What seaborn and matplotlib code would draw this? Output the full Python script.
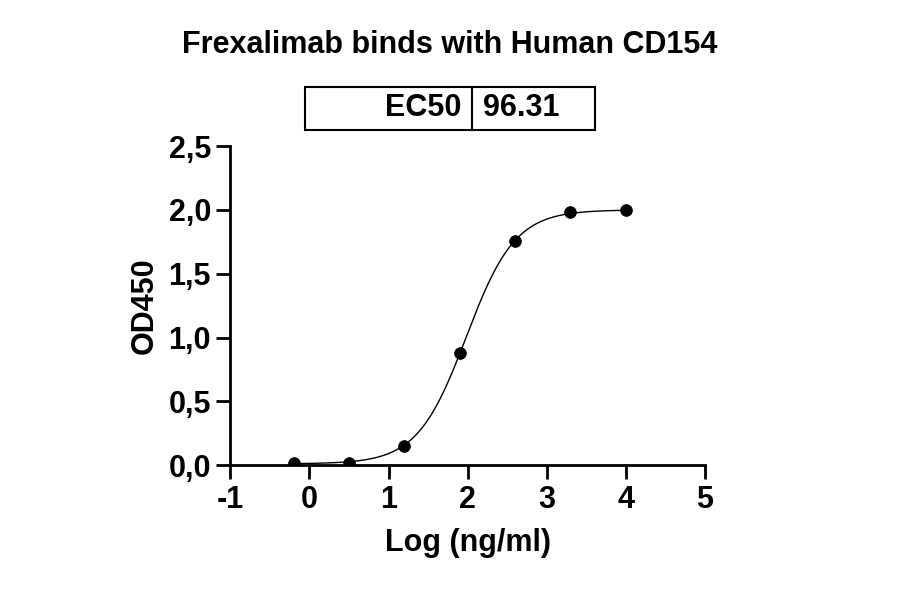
import numpy as np
import matplotlib
matplotlib.use("Agg")
import matplotlib.pyplot as plt
import seaborn as sns

# measured points (log ng/ml, OD450)
log_conc = [-0.2, 0.5, 1.2, 1.9, 2.6, 3.3, 4.0]
od450 = [0.02, 0.02, 0.15, 0.88, 1.76, 1.98, 2.00]

# 4PL fit parameters
bottom, top, ec50, hill = 0.01, 2.0, 96.31, 1.4

sns.set_style("ticks")
plt.rcParams['font.family'] = ['Liberation Sans', 'DejaVu Sans']
plt.rcParams['text.color'] = 'black'
plt.rcParams['axes.labelcolor'] = 'black'
plt.rcParams['xtick.color'] = 'black'
plt.rcParams['ytick.color'] = 'black'
plt.rcParams['axes.edgecolor'] = 'black'
plt.rcParams['axes.unicode_minus'] = False

fig = plt.figure(figsize=(9, 5.94), dpi=100)
ax = fig.add_axes([0.256, 0.217, 0.527, 0.537])

xf = np.linspace(min(log_conc), max(log_conc), 300)
yf = bottom + (top - bottom) / (1 + 10 ** ((np.log10(ec50) - xf) * hill))
sns.lineplot(x=xf, y=yf, ax=ax, color='black', linewidth=1)
sns.scatterplot(x=log_conc, y=od450, ax=ax, color='black', s=70, edgecolor='black', zorder=3)

ax.set_xlim(-1, 5)
ax.set_ylim(0, 2.5)
ax.set_xticks(range(-1, 6))
ax.set_xticklabels([str(v) for v in range(-1, 6)])
ax.set_yticks([0, 0.5, 1.0, 1.5, 2.0, 2.5])
ax.set_yticklabels([f"{v:.1f}".replace('.', ',') for v in ax.get_yticks()])
for s in ['top', 'right']:
    ax.spines[s].set_visible(False)
for s in ['left', 'bottom']:
    ax.spines[s].set_linewidth(2)
ax.tick_params(width=2, length=10, labelsize=22, direction='out', pad=4)
for lab in ax.get_xticklabels() + ax.get_yticklabels():
    lab.set_fontweight('bold')
ax.set_xlabel('Log (ng/ml)', fontsize=22, fontweight='bold', labelpad=10)
ax.set_ylabel('OD450', fontsize=22, fontweight='bold', labelpad=6)

fig.text(0.5, 1 - 45 / 594, 'Frexalimab binds with Human CD154', ha='center', va='center',
         fontsize=22, fontweight='bold')

# EC50 table
bx0, bx1, bdiv = 305 / 900, 595 / 900, 472 / 900
by0, by1 = 1 - 130 / 594, 1 - 87 / 594
fig.add_artist(plt.Rectangle((bx0, by0), bx1 - bx0, by1 - by0, fill=False, lw=1.5,
                             transform=fig.transFigure, color='black'))
fig.add_artist(plt.Line2D([bdiv, bdiv], [by0, by1], lw=1.5, color='black', transform=fig.transFigure))
fig.text(bdiv - 0.012, (by0 + by1) / 2, 'EC50', ha='right', va='center', fontsize=22, fontweight='bold')
fig.text(bdiv + 0.012, (by0 + by1) / 2, '96.31', ha='left', va='center', fontsize=22, fontweight='bold')

fig.savefig('out.png', dpi=100)
